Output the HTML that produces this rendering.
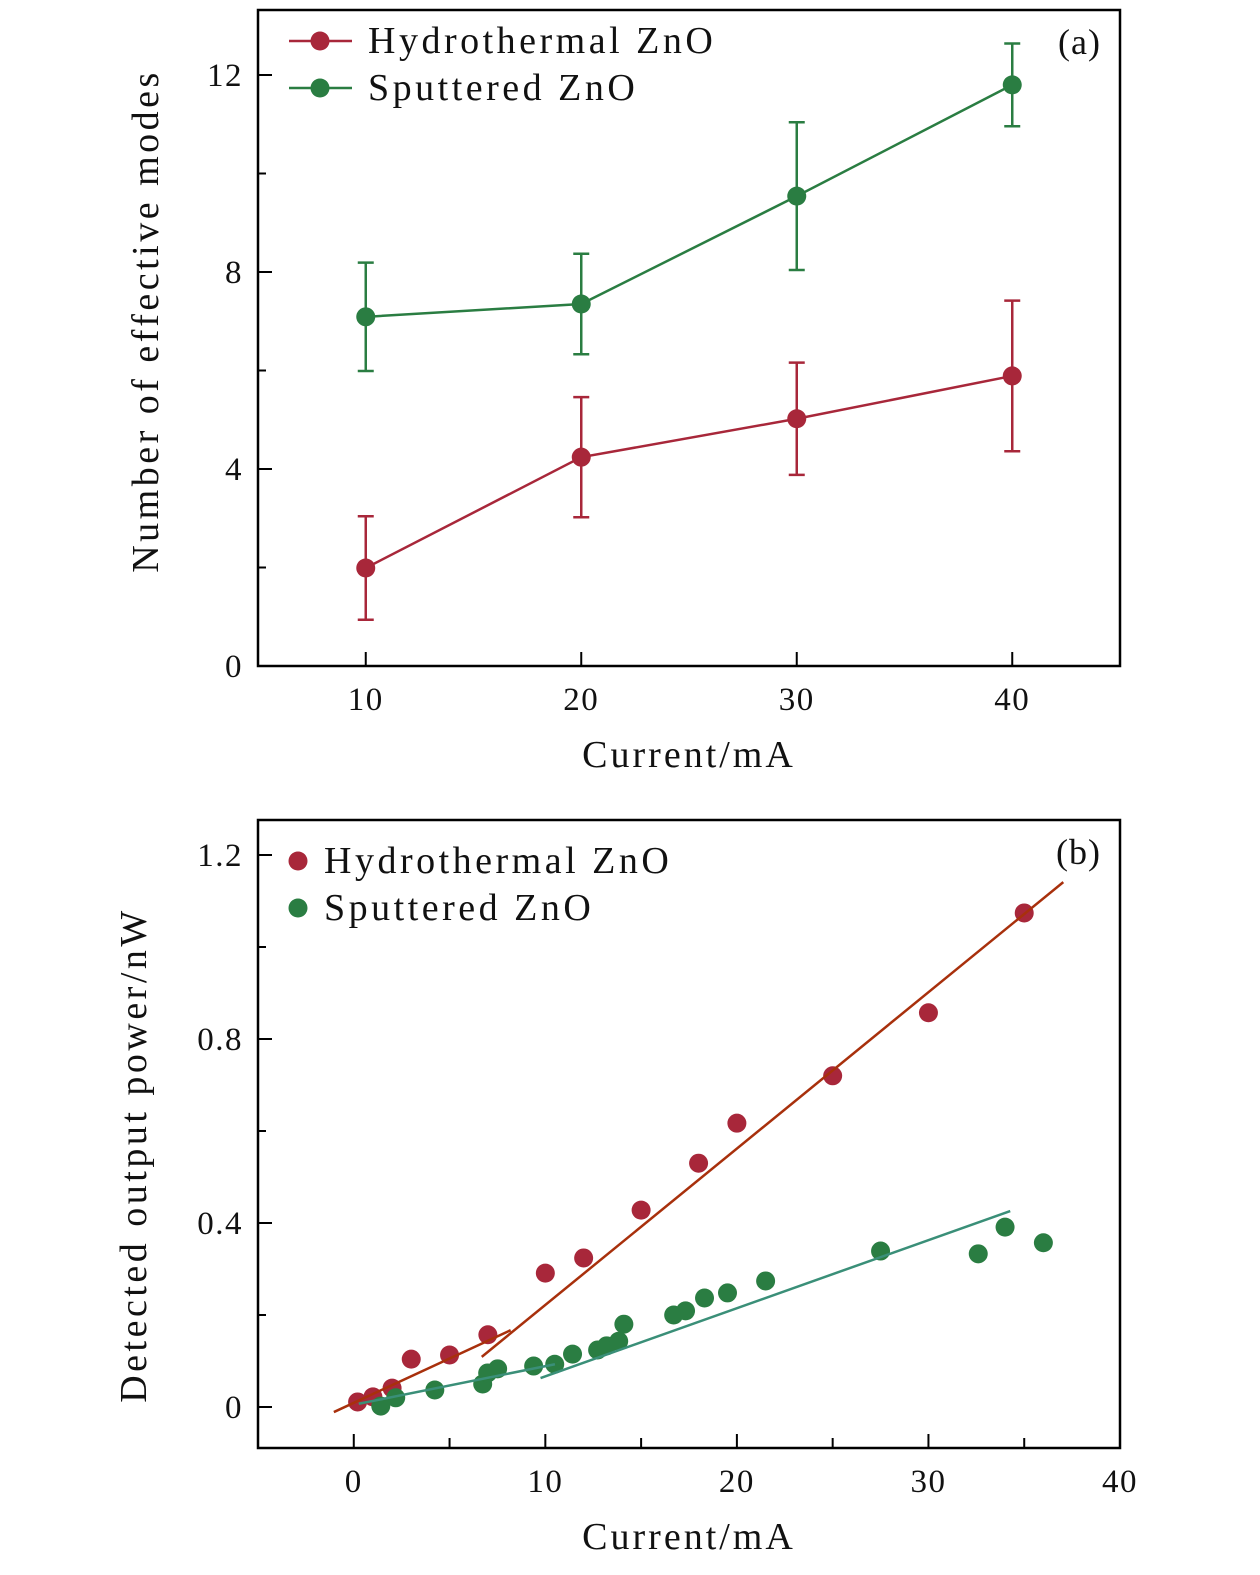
<!DOCTYPE html>
<html><head><meta charset="utf-8"><style>
html,body{margin:0;padding:0;background:#fff;overflow:hidden}
svg{display:block}
text{font-family:"Liberation Serif",serif;fill:#111}
</style></head><body>
<svg id="chart" width="1260" height="1575" xmlns="http://www.w3.org/2000/svg"></svg>
<script>
// Panel (a) data
const aCurrents = [10, 20, 30, 40];
const aHydro = [1.99, 4.24, 5.02, 5.89];
const aHydroErr = [1.05, 1.22, 1.14, 1.53];
const aSput = [7.09, 7.35, 9.54, 11.8];
const aSputErr = [1.1, 1.02, 1.5, 0.84];
const aXTicks = [10, 20, 30, 40];
const aYTicks = [0, 4, 8, 12];
// Panel (b) data
const bHydroX = [0.2, 1.0, 2.0, 3.0, 5.0, 7.0, 10, 12, 15, 18, 20, 25, 30, 35];
const bHydroY = [0.011, 0.022, 0.041, 0.104, 0.113, 0.157, 0.291, 0.324, 0.428, 0.530, 0.617, 0.720, 0.857, 1.074];
const bSputX = [1.41, 2.19, 4.23, 6.73, 6.99, 7.51, 9.39, 10.49, 11.42, 12.73, 13.2, 13.83, 14.1, 16.7, 17.32, 18.31, 19.51, 21.5, 27.5, 32.6, 34.0, 36.0];
const bSputY = [0.002, 0.02, 0.037, 0.050, 0.074, 0.083, 0.089, 0.093, 0.115, 0.124, 0.133, 0.143, 0.18, 0.2, 0.209, 0.237, 0.248, 0.274, 0.339, 0.333, 0.391, 0.357];
const bHydroFitLowX = [-1.04, 8.19];
const bHydroFitLowY = [-0.011, 0.167];
const bHydroFitHighX = [6.68, 37.04];
const bHydroFitHighY = [0.109, 1.141];
const bSputFitLowX = [0.26, 10.5];
const bSputFitLowY = [0.007, 0.093];
const bSputFitHighX = [9.75, 34.27];
const bSputFitHighY = [0.063, 0.426];
const bXTicks = [0, 10, 20, 30, 40];
const bYTicks = [0, 0.4, 0.8, 1.2];

const NS = "http://www.w3.org/2000/svg";
const svg = document.getElementById('chart');
function mk(tag, attrs, parent) {
  const e = document.createElementNS(NS, tag);
  for (const k in attrs) e.setAttribute(k, attrs[k]);
  (parent || svg).appendChild(e);
  return e;
}
const RED = '#a8273a', GREEN = '#2a7d42';
const TICK_FS = 33, TITLE_FS = 38, LEG_FS = 38;

// ---------- Panel a ----------
const ax = v => 258 + (v - 5) * (862 / 40);
const ay = v => 666 - v * 49.25;
let g = mk('g', {});


let r = mk('rect', {x: 258, y: 10, width: 862, height: 656, fill: 'none', stroke: '#000', 'stroke-width': 2.5}, g);


aXTicks.forEach(t => {
  mk('line', {x1: ax(t), x2: ax(t), y1: 666, y2: 652, stroke: '#000', 'stroke-width': 2}, g);
  const tx = mk('text', {x: ax(t), y: 710, 'font-size': TICK_FS, 'text-anchor': 'middle', 'letter-spacing': 1.5}, g);
  tx.textContent = t;
  
  
});
aYTicks.forEach(t => {
  mk('line', {x1: 258, x2: 272, y1: ay(t), y2: ay(t), stroke: '#000', 'stroke-width': 2}, g);
  const tx = mk('text', {x: 243, y: ay(t) + 11, 'font-size': TICK_FS, 'text-anchor': 'end', 'letter-spacing': 1.5}, g);
  tx.textContent = t;
  
  
});
[2, 6, 10].forEach(t => mk('line', {x1: 258, x2: 266, y1: ay(t), y2: ay(t), stroke: '#000', 'stroke-width': 2}, g));
let t1 = mk('text', {x: 689, y: 767, 'font-size': TITLE_FS, 'text-anchor': 'middle', 'letter-spacing': 3}, g);
t1.textContent = 'Current/mA';


let t2 = mk('text', {x: 0, y: 0, 'font-size': TITLE_FS, 'text-anchor': 'middle', 'letter-spacing': 3.5, transform: 'translate(158,321) rotate(-90)'}, g);
t2.textContent = 'Number of effective modes';


let t3 = mk('text', {x: 1101, y: 54, 'font-size': 36, 'text-anchor': 'end', 'letter-spacing': 1}, g);
t3.textContent = '(a)';



function seriesA(vals, errs, color, name) {
  const sg = mk('g', {}, g);
  
  
  const pts = aCurrents.map((c, i) => ax(c) + ',' + ay(vals[i])).join(' ');
  mk('polyline', {points: pts, fill: 'none', stroke: color, 'stroke-width': 2.5}, sg);
  aCurrents.forEach((c, i) => {
    const x = ax(c), y1 = ay(vals[i] + errs[i]), y2 = ay(vals[i] - errs[i]);
    mk('line', {x1: x, x2: x, y1: y1, y2: y2, stroke: color, 'stroke-width': 2.5}, sg);
    mk('line', {x1: x - 8, x2: x + 8, y1: y1, y2: y1, stroke: color, 'stroke-width': 2.5}, sg);
    mk('line', {x1: x - 8, x2: x + 8, y1: y2, y2: y2, stroke: color, 'stroke-width': 2.5}, sg);
    const c1 = mk('circle', {cx: x, cy: ay(vals[i]), r: 9.5, fill: color}, sg);
    
    
  });
}
seriesA(aHydro, aHydroErr, RED, 'series-hydrothermal-a');
seriesA(aSput, aSputErr, GREEN, 'series-sputtered-a');

function legendA(y, color, label, name) {
  const lg = mk('g', {}, g);
  
  
  mk('line', {x1: 289, x2: 352, y1: y, y2: y, stroke: color, 'stroke-width': 2.5}, lg);
  mk('circle', {cx: 320, cy: y, r: 9.5, fill: color}, lg);
  const t = mk('text', {x: 368, y: y + 12, 'font-size': LEG_FS, 'letter-spacing': 3.5}, lg);
  t.textContent = label;
}
legendA(41, RED, 'Hydrothermal ZnO', 'legend-entry-hydrothermal-a');
legendA(88, GREEN, 'Sputtered ZnO', 'legend-entry-sputtered-a');

// ---------- Panel b ----------
const bx = v => 258 + (v + 5) * (862 / 45);
const by = v => 1407 - v * 460;
g = mk('g', {});


r = mk('rect', {x: 258, y: 820, width: 862, height: 628, fill: 'none', stroke: '#000', 'stroke-width': 2.5}, g);


bXTicks.forEach(t => {
  mk('line', {x1: bx(t), x2: bx(t), y1: 1448, y2: 1434, stroke: '#000', 'stroke-width': 2}, g);
  mk('line', {x1: bx(t - 5), x2: bx(t - 5), y1: 1448, y2: 1438, stroke: '#000', 'stroke-width': 2}, g);
  const tx = mk('text', {x: bx(t), y: 1492, 'font-size': TICK_FS, 'text-anchor': 'middle', 'letter-spacing': 1.5}, g);
  tx.textContent = t;
  
  
});
bYTicks.forEach(t => {
  mk('line', {x1: 258, x2: 272, y1: by(t), y2: by(t), stroke: '#000', 'stroke-width': 2}, g);
  if (t + 0.2 < 1.27) mk('line', {x1: 258, x2: 266, y1: by(t + 0.2), y2: by(t + 0.2), stroke: '#000', 'stroke-width': 2}, g);
  const tx = mk('text', {x: 243, y: by(t) + 11, 'font-size': TICK_FS, 'text-anchor': 'end', 'letter-spacing': 1.5}, g);
  tx.textContent = t === 0 ? '0' : t.toFixed(1);
  
  
});
t1 = mk('text', {x: 689, y: 1549, 'font-size': TITLE_FS, 'text-anchor': 'middle', 'letter-spacing': 3}, g);
t1.textContent = 'Current/mA';


t2 = mk('text', {x: 0, y: 0, 'font-size': TITLE_FS, 'text-anchor': 'middle', 'letter-spacing': 3.5, transform: 'translate(146,1155) rotate(-90)'}, g);
t2.textContent = 'Detected output power/nW';


t3 = mk('text', {x: 1101, y: 864, 'font-size': 36, 'text-anchor': 'end', 'letter-spacing': 1}, g);
t3.textContent = '(b)';



function scatterB(xs, ys, color, name) {
  const sg = mk('g', {}, g);
  
  
  xs.forEach((x, i) => {
    const c = mk('circle', {cx: bx(x), cy: by(ys[i]), r: 9.5, fill: color}, sg);
    
    
  });
}
scatterB(bHydroX, bHydroY, RED, 'series-hydrothermal-b');
scatterB(bSputX, bSputY, GREEN, 'series-sputtered-b');
function fitB(xs, ys, color, name) {
  const l = mk('line', {x1: bx(xs[0]), y1: by(ys[0]), x2: bx(xs[1]), y2: by(ys[1]), stroke: color, 'stroke-width': 2.5}, g);
  
  
}
fitB(bHydroFitLowX, bHydroFitLowY, '#a8300c', 'fit-line-hydrothermal-low');
fitB(bHydroFitHighX, bHydroFitHighY, '#a8300c', 'fit-line-hydrothermal-high');
fitB(bSputFitLowX, bSputFitLowY, '#3a8f78', 'fit-line-sputtered-low');
fitB(bSputFitHighX, bSputFitHighY, '#3a8f78', 'fit-line-sputtered-high');

function legendB(y, color, label, name) {
  const lg = mk('g', {}, g);
  
  
  mk('circle', {cx: 298, cy: y, r: 9.5, fill: color}, lg);
  const t = mk('text', {x: 324, y: y + 12, 'font-size': LEG_FS, 'letter-spacing': 3.5}, lg);
  t.textContent = label;
}
legendB(861, RED, 'Hydrothermal ZnO', 'legend-entry-hydrothermal-b');
legendB(908, GREEN, 'Sputtered ZnO', 'legend-entry-sputtered-b');
</script>
</body></html>
